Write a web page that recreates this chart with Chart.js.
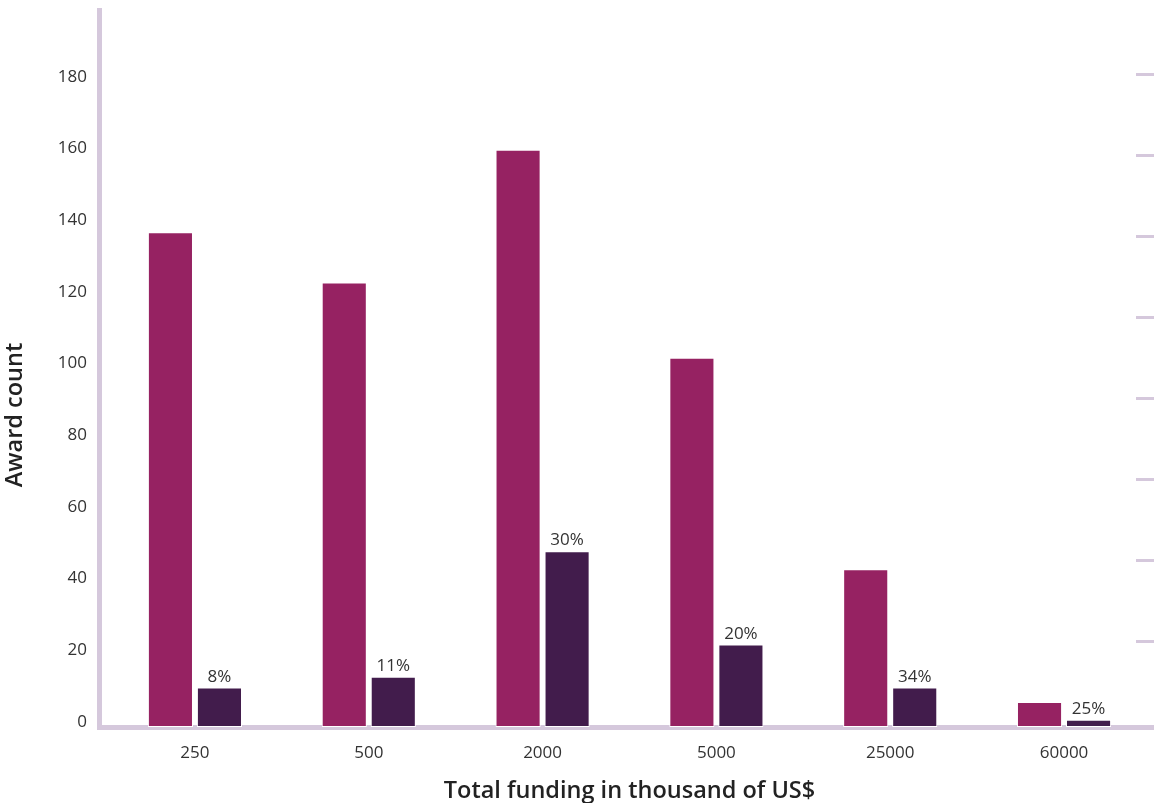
<!DOCTYPE html>
<html lang="en">
<head>
<meta charset="UTF-8">
<title>Award count by total funding</title>
<style>
    html, body {
        margin: 0;
        padding: 0;
        background: #fff;
        overflow: hidden;
    }
    .wrap {
        width: 1154px;
        height: 803px;
    }
</style>
</head>
<body>
<div class="wrap">
    <canvas id="fundingChart" width="1154" height="803"></canvas>
</div>

<script src="https://cdn.jsdelivr.net/npm/chart.js"></script>
<script>
// funding brackets (thousand US$)
const categories = ['250', '500', '2000', '5000', '25000', '60000'];
// all awards per bracket
const awardCounts = [138, 124, 161, 103, 44, 7];
// the smaller (dark) series
const subsetCounts = [11, 14, 49, 23, 11, 2];
// labels printed above the dark bars
const shareLabels = ['8%', '11%', '30%', '20%', '34%', '25%'];
// left axis tick values and the unlabelled marks on the right side
const yTicks = [0, 20, 40, 60, 80, 100, 120, 140, 160, 180];
const rightMarks = [1, 2, 3, 4, 5, 6, 7, 8];

const xTitle = 'Total funding in thousand of US$';
const yTitle = 'Award count';

const FONT = "'Open Sans', 'DejaVu Sans', sans-serif";
const AXIS = '#d5c8dc';
const MAGENTA = '#962262';
const PLUM = '#421c4c';

// percentage labels over the dark bars + the two axis titles
// (titles drawn here because the originals sit off-centre)
const annotatePlugin = {
    id: 'annotate',
    afterDatasetsDraw(chart) {
        const meta = chart.getDatasetMeta(1);
        const ctx = chart.ctx;
        const area = chart.chartArea;
        ctx.save();
        ctx.font = '17px ' + FONT;
        ctx.fillStyle = '#333';
        ctx.textAlign = 'center';
        ctx.textBaseline = 'alphabetic';
        meta.data.forEach((bar, i) => {
            ctx.fillText(shareLabels[i], bar.x, bar.y - 6);
        });

        ctx.font = '600 23.5px ' + FONT;
        ctx.fillStyle = '#222';
        ctx.textBaseline = 'middle';
        ctx.fillText(xTitle, (area.left + area.right) / 2 + 12, chart.height - 12);

        ctx.translate(15, area.bottom - 312);
        ctx.rotate(-Math.PI / 2);
        ctx.fillText(yTitle, 0, 0);
        ctx.restore();
    }
};

const toPoints = arr => arr.map((v, i) => ({ x: i, y: v }));

const ctx = document.getElementById('fundingChart').getContext('2d');
new Chart(ctx, {
    type: 'bar',
    data: {
        datasets: [
            {
                label: 'Awards',
                data: toPoints(awardCounts),
                backgroundColor: MAGENTA,
                borderColor: '#fff',
                borderWidth: 1,
                borderSkipped: false,
                categoryPercentage: 0.564,
                barPercentage: 0.92
            },
            {
                label: 'Share',
                data: toPoints(subsetCounts),
                backgroundColor: PLUM,
                borderColor: '#fff',
                borderWidth: 1,
                borderSkipped: false,
                categoryPercentage: 0.564,
                barPercentage: 0.92
            }
        ]
    },
    options: {
        responsive: false,
        animation: false,
        layout: { padding: { top: 10, left: 0, right: 0, bottom: 0 } },
        plugins: {
            legend: { display: false },
            tooltip: { enabled: false }
        },
        scales: {
            x: {
                type: 'linear',
                bounds: 'data',
                offset: false,
                min: -0.552,
                max: 5.414,
                grid: { display: false, drawTicks: false },
                border: { display: true, color: AXIS, width: 5 },
                ticks: {
                    padding: 16,
                    color: '#333',
                    font: { family: FONT, size: 17 },
                    callback: v => categories[v] ?? ''
                },
                afterBuildTicks: s => {
                    s.ticks = categories.map((c, i) => ({ value: i }));
                },
                afterFit: s => {
                    s.height = 76;
                    s.paddingLeft = 0;
                    s.paddingRight = 0;
                }
            },
            y: {
                position: 'left',
                bounds: 'data',
                min: 0,
                max: 200,
                grid: { display: false, drawTicks: false },
                border: { display: true, color: AXIS, width: 5 },
                ticks: {
                    padding: 12,
                    labelOffset: -5,
                    color: '#333',
                    font: { family: FONT, size: 17 }
                },
                afterBuildTicks: s => {
                    s.ticks = yTicks.map(v => ({ value: v }));
                },
                afterFit: s => {
                    s.width = 99;
                    s.paddingTop = 0;
                    s.paddingBottom = 0;
                }
            },
            y2: {
                position: 'right',
                bounds: 'data',
                min: -0.052,
                max: 8.79,
                grid: {
                    display: true,
                    drawOnChartArea: false,
                    drawTicks: true,
                    tickLength: 18,
                    color: AXIS,
                    lineWidth: c => (c.index === 0 ? 5 : 3)
                },
                border: { display: false },
                ticks: { display: false },
                afterBuildTicks: s => {
                    s.ticks = [s.min, ...rightMarks].map(v => ({ value: v }));
                },
                afterFit: s => {
                    s.width = 18;
                    s.paddingTop = 0;
                    s.paddingBottom = 0;
                }
            }
        }
    },
    plugins: [annotatePlugin]
});
</script>
</body>
</html>
